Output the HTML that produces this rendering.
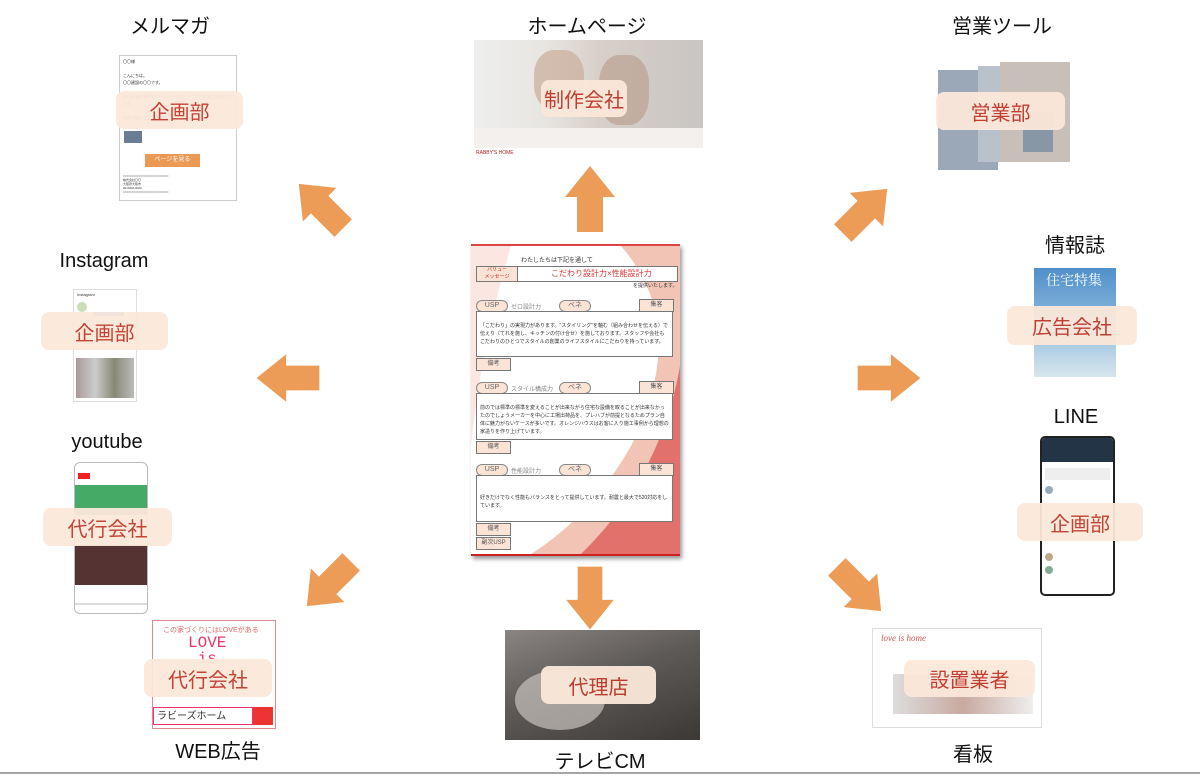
<!DOCTYPE html>
<html><head><meta charset="utf-8"><style>
body{margin:0;width:1200px;height:777px;background:#fff;position:relative;overflow:hidden;font-family:"Liberation Sans","Noto Sans CJK JP",sans-serif}
.a{position:absolute}
.t{position:absolute;font-size:20px;color:#111;transform:translateX(-50%);white-space:nowrap}
.lb{position:absolute;background:#fbe8da;border-radius:8px;color:#c0392b;font-size:20px;display:flex;align-items:center;justify-content:center;opacity:.95}
.img{position:absolute;overflow:hidden}
.d{position:absolute;font-size:6px;color:#333}
.pill{position:absolute;border:1px solid #888;border-radius:8px;background:#fbe3d6;font-size:7px;color:#666;text-align:center;line-height:10px;height:10px}
.bx{position:absolute;border:1px solid #777;background:#fbe3d6;font-size:6px;text-align:center;color:#555;line-height:11px;height:11px}
.tb{position:absolute;border:1px solid #777;background:#fff;font-size:5px;color:#333;padding:10px 3px;box-sizing:border-box;line-height:8px}
</style></head><body>
<div class="t" style="left:170px;top:10px">メルマガ</div>
<div class="t" style="left:587px;top:10px">ホームページ</div>
<div class="t" style="left:1002px;top:10px">営業ツール</div>
<div class="t" style="left:1075px;top:229px">情報誌</div>
<div class="t" style="left:104px;top:250px">Instagram</div>
<div class="t" style="left:1076px;top:406px">LINE</div>
<div class="t" style="left:107px;top:431px">youtube</div>
<div class="t" style="left:218px;top:735px">WEB広告</div>
<div class="t" style="left:600px;top:745px">テレビCM</div>
<div class="t" style="left:973px;top:738px">看板</div>

<!-- メルマガ image -->
<div class="img" style="left:119px;top:55px;width:116px;height:144px;border:1px solid #ccc;background:#fff">
<div class="d" style="left:3px;top:2px;font-size:4px;line-height:7px">〇〇様<br><br>こんにちは。<br>〇〇建設の〇〇です。<br><br>本日は施工事例をホームページにアップしたのでご案内になります。<br><br>名前で施工された施主様です。</div>
<div class="a" style="left:4px;top:75px;width:18px;height:12px;background:#6b7d95"></div>
<div class="a" style="left:25px;top:98px;width:55px;height:13px;background:#eb9a55;color:#fff;font-size:6px;text-align:center;line-height:13px">ページを見る</div>
<div class="d" style="left:3px;top:118px;font-size:3px;line-height:4px">==========================<br>株式会社〇〇<br>大阪府大阪市<br>00-0000-0000<br>==========================</div>
</div>
<!-- HP -->
<div class="img" style="left:474px;top:40px;width:229px;height:120px;background:linear-gradient(90deg,#eee 0%,#e8e6e2 30%,#d8cfc8 55%,#c8c5c3 100%)">
<div class="a" style="left:60px;top:10px;width:50px;height:60px;border-radius:40%;background:#c9ad9a;opacity:.7"></div>
<div class="a" style="left:125px;top:15px;width:50px;height:70px;border-radius:40%;background:#b89a88;opacity:.6"></div>
<div class="a" style="left:0;top:88px;width:229px;height:20px;background:#f3f0ee"></div>
<div class="a" style="left:0;top:108px;width:229px;height:12px;background:#fff"></div>
<div class="a" style="left:2px;top:110px;font-size:5px;color:#b22">RABBY'S HOME</div>
</div>
<!-- 営業ツール -->
<div class="img" style="left:938px;top:62px;width:132px;height:108px">
<div class="a" style="left:0;top:8px;width:60px;height:100px;background:#9aa8b8"></div>
<div class="a" style="left:40px;top:4px;width:50px;height:96px;background:#b8c1cc"></div>
<div class="a" style="left:62px;top:0;width:70px;height:100px;background:#c9bfb9"></div>
<div class="a" style="left:85px;top:50px;width:30px;height:40px;background:#8897a8"></div>
</div>
<!-- 情報誌 -->
<div class="img" style="left:1034px;top:268px;width:82px;height:109px;background:linear-gradient(180deg,#4f8fc9 0%,#7fb1d8 40%,#d7e6ee 100%)">
<div class="a" style="left:12px;top:2px;color:#fff;font-size:14px;font-family:'Noto Serif CJK SC',serif">住宅特集</div>
</div>
<!-- Instagram -->
<div class="img" style="left:73px;top:289px;width:62px;height:111px;background:#fff;border:1px solid #ddd">
<div class="d" style="left:3px;top:2px;font-size:4px">Instagram</div>
<div class="a" style="left:3px;top:12px;width:10px;height:10px;border-radius:50%;background:#cdb"></div>
<div class="a" style="left:20px;top:22px;width:30px;height:4px;background:#3897f0"></div>
<div class="a" style="left:2px;top:68px;width:58px;height:40px;background:linear-gradient(90deg,#a99 0,#ccc 33%,#887 66%,#bbb 100%)"></div>
</div>
<!-- youtube -->
<div class="img" style="left:74px;top:462px;width:72px;height:150px;border:1px solid #bbb;border-radius:6px;background:#fff">
<div class="a" style="left:3px;top:10px;width:12px;height:6px;background:#e22"></div>
<div class="a" style="left:0;top:22px;width:72px;height:30px;background:#4a6"></div>
<div class="a" style="left:0;top:82px;width:72px;height:40px;background:#533"></div>
<div class="a" style="left:0;top:140px;width:72px;height:2px;background:#ddd"></div>
</div>
<!-- LINE -->
<div class="img" style="left:1040px;top:436px;width:75px;height:160px;border:2px solid #222;border-radius:5px;background:#fff;box-sizing:border-box">
<div class="a" style="left:0;top:0;width:71px;height:24px;background:#243447"></div>
<div class="a" style="left:3px;top:30px;width:65px;height:12px;background:#eee"></div>
<div class="a" style="left:3px;top:48px;width:8px;height:8px;border-radius:50%;background:#9ab"></div>
<div class="a" style="left:3px;top:115px;width:8px;height:8px;border-radius:50%;background:#ba8"></div>
<div class="a" style="left:3px;top:128px;width:8px;height:8px;border-radius:50%;background:#8a9"></div>
</div>
<!-- WEB広告 -->
<div class="img" style="left:152px;top:620px;width:122px;height:107px;border:1px solid #e08a90;background:#fff">
<div class="a" style="left:10px;top:4px;font-size:7px;color:#d66">この家づくりにはLOVEがある</div>
<div class="a" style="left:35px;top:14px;font-size:16px;color:#e36;font-family:'Liberation Mono',monospace;line-height:16px">LOVE<br>&nbsp;is</div>
<div class="a" style="left:0;top:86px;width:100px;height:18px;border:1px solid #e36;font-size:10px;line-height:18px;color:#333;box-sizing:border-box;padding-left:3px">ラビーズホーム</div>
<div class="a" style="left:100px;top:86px;width:20px;height:18px;background:#e33"></div>
</div>
<!-- TV -->
<div class="img" style="left:505px;top:630px;width:195px;height:110px;background:linear-gradient(160deg,#8a8582 0%,#5e5a58 45%,#3c3836 100%)">
<div class="a" style="left:10px;top:40px;width:90px;height:60px;border-radius:50%;background:#c7c2bd;opacity:.7"></div>
</div>
<!-- 看板 -->
<div class="img" style="left:872px;top:628px;width:168px;height:98px;background:#fff;border:1px solid #ddd">
<div class="a" style="left:8px;top:4px;font-size:9px;color:#c55;font-style:italic;font-family:'Liberation Serif',serif">love is home</div>
<div class="a" style="left:20px;top:45px;width:140px;height:40px;background:linear-gradient(90deg,#ddd,#c9a9a0,#eee)"></div>
</div>

<!-- center document -->
<div class="a" style="left:471px;top:244px;width:209px;height:308px;background:#fff;box-shadow:2px 3px 4px #999;border-top:2px solid #d44;border-bottom:2px solid #c22;overflow:hidden">
<svg class="a" style="left:0;top:0" width="209" height="308"><path d="M150 0 Q220 80 160 200 Q120 270 60 308 L209 308 L209 0Z" fill="#f2c4b6"/><path d="M209 120 Q190 230 110 308 L209 308Z" fill="#e3716b"/><path d="M0 0 L40 0 Q10 100 0 200Z" fill="#fbe6e2"/></svg>
<div class="d" style="left:50px;top:9px">わたしたちは下記を通して</div>
<div class="a" style="left:5px;top:20px;width:200px;height:14px;border:1px solid #777;background:#fff"></div>
<div class="a" style="left:5px;top:20px;width:40px;height:14px;border:1px solid #777;background:#fbe3d6;font-size:5px;color:#c22;text-align:center;line-height:7px">バリュー<br>メッセージ</div>
<div class="a" style="left:80px;top:22px;font-size:8px;color:#d33">こだわり設計力×性能設計力</div>
<div class="d" style="left:162px;top:36px;font-size:5px">を提供いたします。</div>
<div class="pill" style="left:5px;top:54px;width:30px">USP</div><div class="d" style="left:40px;top:56px;color:#888">ゼロ設計力</div><div class="pill" style="left:88px;top:54px;width:30px">ベネ</div><div class="bx" style="left:168px;top:53px;width:33px">集客</div>
<div class="tb" style="left:5px;top:65px;width:197px;height:46px">「こだわり」の実現力があります。"スタイリング"を軸む（組み合わせを伝える）で伝えり（てれを施し、キッチンの付け合せ）を施しております。スタッフや会社もこだわりのひとつでスタイルの創業のライフスタイルにこだわりを持っています。</div>
<div class="bx" style="left:5px;top:112px;width:33px">備考</div>
<div class="pill" style="left:5px;top:136px;width:30px">USP</div><div class="d" style="left:40px;top:138px;color:#888">スタイル構成力</div><div class="pill" style="left:88px;top:136px;width:30px">ベネ</div><div class="bx" style="left:168px;top:135px;width:33px">集客</div>
<div class="tb" style="left:5px;top:147px;width:197px;height:47px">前のでは標準の標準を変えることが出来ながら住宅な設備を取ることが出来なかったのでしょうメーカーを中心に工場出荷品を、プレハブが前提となるためプラン自体に魅力がないケースが多いです。オレンジハウスはお客に入り施工事例から理想の家造りを作り上げています。</div>
<div class="bx" style="left:5px;top:195px;width:33px">備考</div>
<div class="pill" style="left:5px;top:218px;width:30px">USP</div><div class="d" style="left:40px;top:220px;color:#888">性能設計力</div><div class="pill" style="left:88px;top:218px;width:30px">ベネ</div><div class="bx" style="left:168px;top:217px;width:33px">集客</div>
<div class="tb" style="left:5px;top:229px;width:197px;height:47px;padding-top:18px">好きだけでなく性能もバランスをとって提供しています。耐震と最大で520対応をしています。</div>
<div class="bx" style="left:5px;top:277px;width:33px">備考</div>
<div class="bx" style="left:5px;top:291px;width:33px">副次USP</div>
</div>

<!-- arrows -->
<svg class="a" style="left:0;top:0" width="1200" height="777">
<defs><path id="ar" d="M-33 -13 L2 -13 L2 -25 L33 0 L2 25 L2 13 L-33 13Z" fill="#ec9c57"/></defs>
<use href="#ar" transform="translate(590,199) rotate(-90)"/>
<use href="#ar" transform="translate(321,206) rotate(-135) scale(.95)"/>
<use href="#ar" transform="translate(865,211) rotate(-45) scale(.95)"/>
<use href="#ar" transform="translate(889,378) scale(.95)"/>
<use href="#ar" transform="translate(288,378) rotate(180) scale(.95)"/>
<use href="#ar" transform="translate(329,584) rotate(135) scale(.95)"/>
<use href="#ar" transform="translate(590,598) rotate(90) scale(.95)"/>
<use href="#ar" transform="translate(859,589) rotate(45) scale(.95)"/>
<line x1="0" y1="773" x2="1200" y2="773" stroke="#888" stroke-width="1.5"/>
</svg>

<!-- labels -->
<div class="lb" style="left:116px;top:91px;width:127px;height:38px">企画部</div>
<div class="lb" style="left:541px;top:80px;width:86px;height:37px">制作会社</div>
<div class="lb" style="left:936px;top:92px;width:129px;height:38px">営業部</div>
<div class="lb" style="left:1007px;top:306px;width:130px;height:39px">広告会社</div>
<div class="lb" style="left:41px;top:312px;width:127px;height:38px">企画部</div>
<div class="lb" style="left:43px;top:508px;width:129px;height:38px">代行会社</div>
<div class="lb" style="left:1017px;top:503px;width:126px;height:38px">企画部</div>
<div class="lb" style="left:144px;top:659px;width:128px;height:38px">代行会社</div>
<div class="lb" style="left:541px;top:666px;width:115px;height:38px">代理店</div>
<div class="lb" style="left:904px;top:660px;width:131px;height:37px">設置業者</div>
</body></html>
